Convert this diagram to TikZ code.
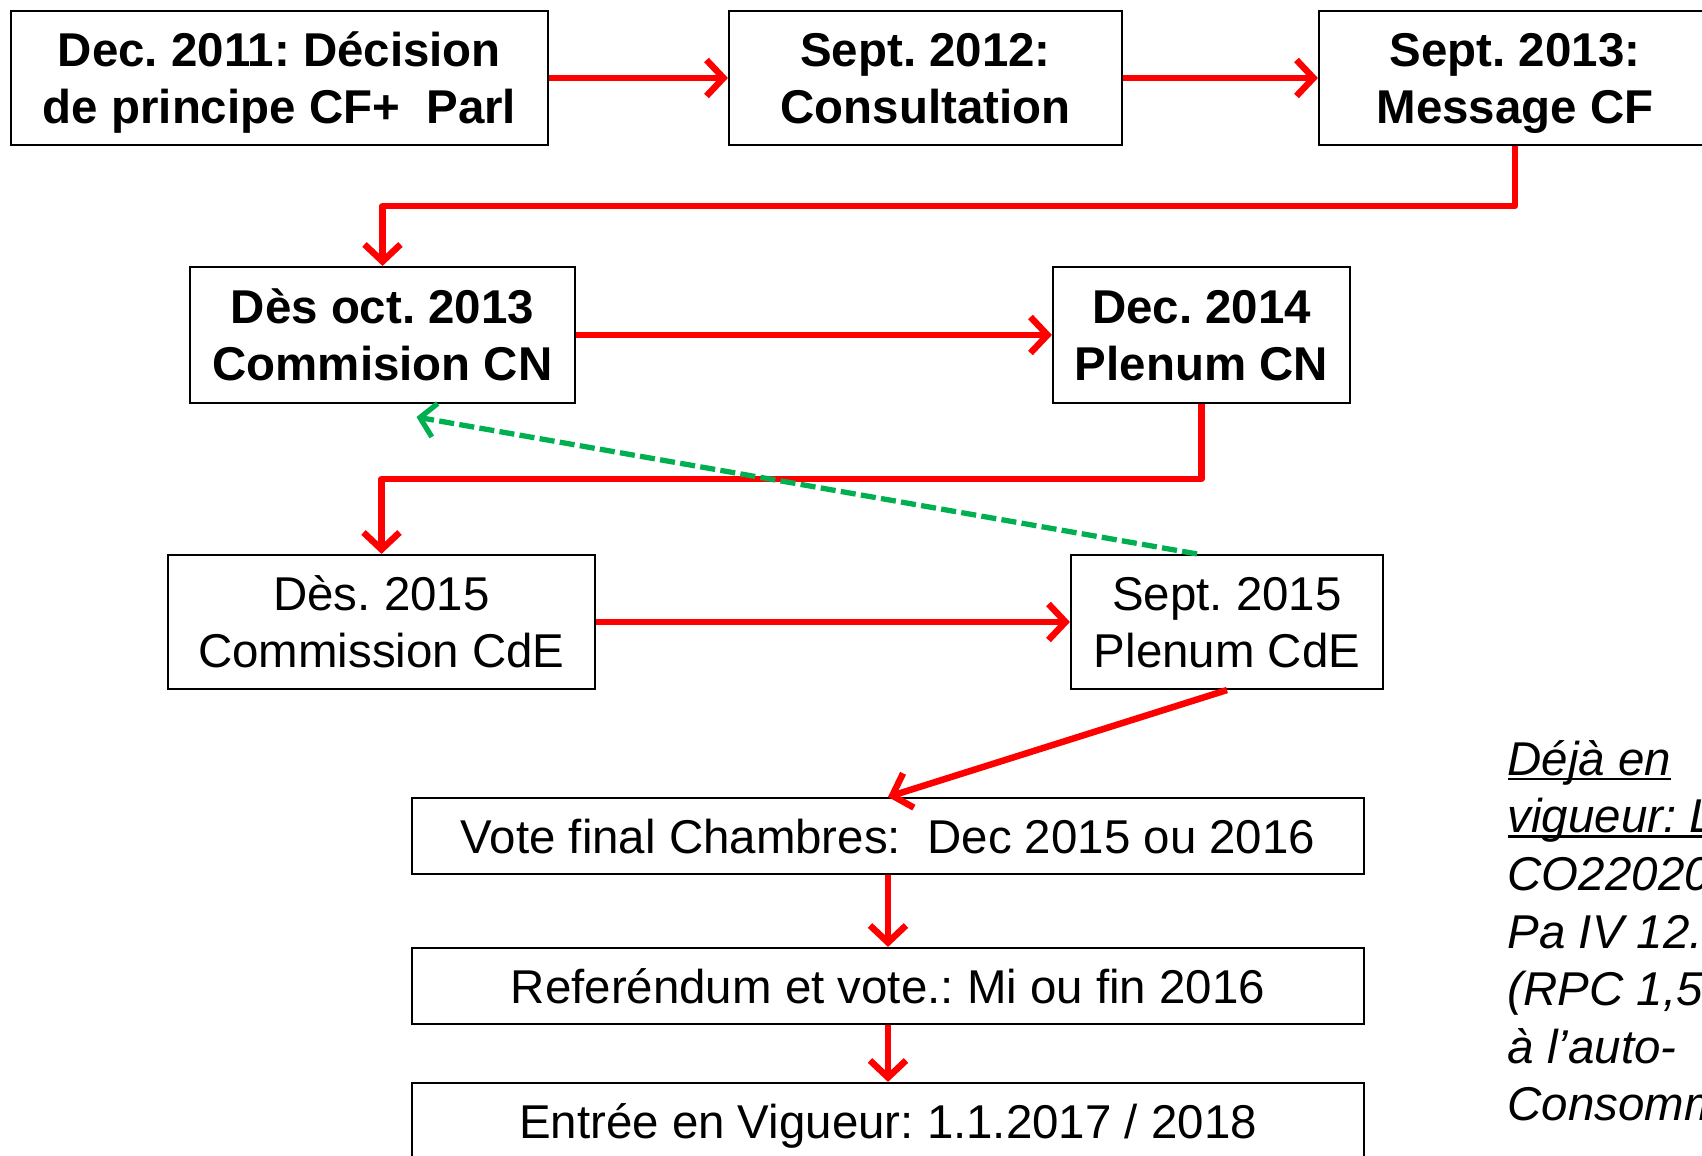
\documentclass[tikz,border=0pt]{standalone}
\usepackage{fontspec}
\setmainfont{Liberation Sans}
\usetikzlibrary{arrows.meta,calc}

\newcommand\souligne[1]{\setbox0\hbox{#1}\rlap{\rule[-0.11em]{\wd0}{0.055em}}\box0}

\tikzset{
	etape/.style={draw, line width=0.6pt, align=center, inner sep=0pt, text depth=0pt,
		font=\fontsize{13.5}{16.2}\selectfont},
	etapebf/.style={etape, font=\fontsize{13.5}{16.2}\selectfont\bfseries},
	fleche/.style={draw=red, line width=1.85pt, line join=round,
		-{Straight Barb[length=0.17cm, width=0.36cm]}},
	retour/.style={draw=vertoffice, line width=1.5pt, dash pattern=on 4.3pt off 1.5pt,
		-{Straight Barb[length=0.15cm, width=0.34cm]}}
}
\definecolor{vertoffice}{RGB}{0,176,80}

\begin{document}
\frenchspacing
\begin{tikzpicture}

			\useasboundingbox (0,0) rectangle (17.02,-11.56);
			\clip (0,0) rectangle (17.02,-11.56);

			\node[etapebf, minimum width=5.37cm, minimum height=1.34cm] (decision) at (2.795,-0.78) {Dec. 2011: Décision\\de principe CF+\ \ Parl};
			\node[etapebf, minimum width=3.93cm, minimum height=1.34cm] (consult) at (9.255,-0.78) {Sept. 2012:\\Consultation};
			\node[etapebf, minimum width=3.92cm, minimum height=1.34cm] (message) at (15.15,-0.78) {Sept. 2013:\\Message CF};

			\node[etapebf, minimum width=3.85cm, minimum height=1.36cm] (commcn) at (3.825,-3.35) {Dès oct. 2013\\Commision CN};
			\node[etapebf, minimum width=2.97cm, minimum height=1.36cm] (plenumcn) at (12.015,-3.35) {Dec. 2014\\Plenum CN};

			\node[etape, minimum width=4.27cm, minimum height=1.34cm] (commcde) at (3.815,-6.22) {Dès. 2015\\Commission CdE};
			\node[etape, minimum width=3.12cm, minimum height=1.34cm] (plenumcde) at (12.27,-6.22) {Sept. 2015\\Plenum CdE};

			\node[etape, minimum width=9.52cm, minimum height=0.76cm] (vote) at (8.88,-8.36) {Vote final Chambres:\ \ Dec 2015 ou 2016};
			\node[etape, minimum width=9.52cm, minimum height=0.76cm] (referendum) at (8.88,-9.86) {Referéndum et vote.: Mi ou fin 2016};
			\node[etape, minimum width=9.52cm, minimum height=0.76cm] (vigueur) at (8.88,-11.21) {Entrée en Vigueur: 1.1.2017 / 2018};

			\node[anchor=base west, align=left, inner sep=0pt,
				font=\fontsize{13.5}{16.4}\selectfont\itshape] (note) at (15.07,-11.21)
				{\souligne{Déjà en}\\\souligne{vigueur: Loi}\\CO22020\\Pa IV 12.4\\(RPC 1,5\\à l’auto-\\Consommation};

			\draw [fleche] (decision) -- (consult);
			\draw [fleche] (consult) -- (message);
			\draw [fleche] (message.south) -- ++(0,-0.6) -| (commcn.north);

			\draw [fleche] (commcn) -- (plenumcn);
			\draw [fleche] (plenumcn.south) -- ++(0,-0.75) -| (commcde.north);

			\coordinate (retourfin) at ($(commcn.south)+(0.34,-0.13)$);
			\draw [retour] ($(plenumcde.north)+(-0.3,0)$) -- (retourfin);

			\draw [fleche] (commcde) -- (plenumcde);
			\draw [fleche] (plenumcde.south) -- (vote.north);
			\draw [fleche] (vote) -- (referendum);
			\draw [fleche] (referendum) -- (vigueur);

	\end{tikzpicture}
\end{document}
